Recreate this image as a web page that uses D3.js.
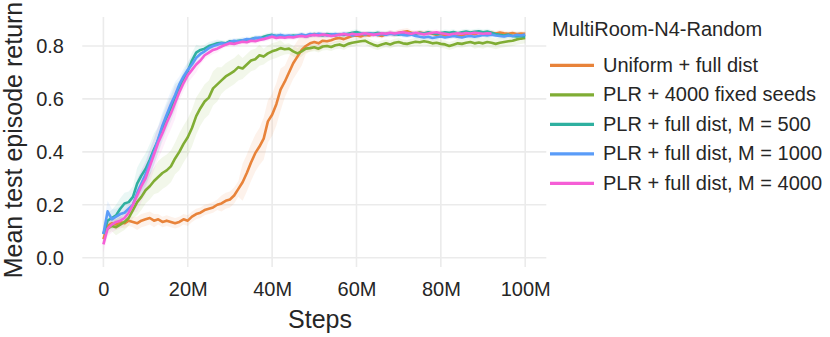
<!DOCTYPE html>
<html>
<head>
<meta charset="utf-8">
<script src="https://cdn.jsdelivr.net/npm/d3@7"></script>
<style>
  body { margin: 0; background: #fff; }
  text { font-family: "Liberation Sans", Arial, sans-serif; fill: #262626; }
</style>
</head>
<body>
<div id="vis"></div>
<script>
// data (steps in millions, one value per 1M)
const SERIES_NAMES = ["Uniform + full dist", "PLR + 4000 fixed seeds", "PLR + full dist, M = 500",
                      "PLR + full dist, M = 1000", "PLR + full dist, M = 4000"];
const COLORS = ["#e8833a", "#80ad34", "#2fb0a0", "#5a9cf8", "#f55ed6"];
const X_TICKS = [0, 20, 40, 60, 80, 100];
const X_TICK_LABELS = ["0", "20M", "40M", "60M", "80M", "100M"];
const Y_TICKS = [0, 0.2, 0.4, 0.6, 0.8];

const UNIFORM = [0.07,0.12,0.13,0.125,0.135,0.13,0.14,0.135,0.13,0.14,
  0.145,0.15,0.14,0.145,0.135,0.14,0.135,0.13,0.135,0.145,
  0.14,0.155,0.165,0.17,0.18,0.185,0.19,0.2,0.205,0.215,
  0.22,0.235,0.26,0.285,0.32,0.36,0.395,0.42,0.45,0.515,
  0.54,0.58,0.635,0.665,0.70,0.735,0.76,0.785,0.80,0.81,
  0.815,0.81,0.82,0.818,0.822,0.828,0.83,0.826,0.832,0.838,
  0.84,0.836,0.842,0.84,0.845,0.842,0.838,0.845,0.848,0.844,
  0.85,0.853,0.856,0.85,0.847,0.851,0.848,0.85,0.846,0.842,
  0.845,0.84,0.838,0.842,0.836,0.84,0.845,0.848,0.844,0.85,
  0.848,0.845,0.85,0.847,0.851,0.848,0.846,0.849,0.845,0.847,0.846];
const PLR_FIXED = [0.09,0.11,0.12,0.115,0.125,0.135,0.15,0.18,0.21,0.23,
  0.255,0.27,0.29,0.305,0.32,0.33,0.345,0.375,0.4,0.43,
  0.455,0.49,0.535,0.565,0.59,0.605,0.64,0.655,0.67,0.685,
  0.695,0.705,0.72,0.715,0.73,0.745,0.75,0.765,0.76,0.772,
  0.78,0.785,0.792,0.788,0.79,0.78,0.772,0.78,0.79,0.792,
  0.795,0.79,0.798,0.80,0.796,0.803,0.806,0.80,0.808,0.812,
  0.815,0.818,0.82,0.812,0.805,0.8,0.806,0.81,0.806,0.812,
  0.815,0.81,0.808,0.812,0.816,0.814,0.818,0.815,0.81,0.812,
  0.808,0.806,0.8,0.805,0.81,0.808,0.812,0.815,0.81,0.813,
  0.81,0.815,0.812,0.808,0.812,0.815,0.818,0.82,0.825,0.828,0.83];
const PLR_M500 = [0.09,0.14,0.15,0.16,0.185,0.205,0.21,0.23,0.28,0.31,
  0.335,0.37,0.41,0.445,0.49,0.53,0.565,0.605,0.64,0.675,
  0.705,0.745,0.775,0.785,0.79,0.8,0.805,0.81,0.812,0.81,
  0.818,0.815,0.82,0.822,0.818,0.826,0.83,0.828,0.835,0.84,
  0.842,0.838,0.84,0.835,0.836,0.84,0.838,0.842,0.836,0.84,
  0.845,0.842,0.84,0.845,0.843,0.84,0.844,0.842,0.846,0.85,
  0.853,0.848,0.845,0.848,0.846,0.85,0.847,0.845,0.848,0.846,
  0.843,0.847,0.845,0.848,0.846,0.85,0.847,0.852,0.848,0.845,
  0.849,0.852,0.85,0.853,0.848,0.852,0.855,0.851,0.854,0.856,
  0.852,0.855,0.85,0.845,0.842,0.84,0.843,0.838,0.836,0.838,0.835];
const PLR_M1000 = [0.09,0.175,0.145,0.155,0.165,0.17,0.185,0.2,0.245,0.28,
  0.315,0.36,0.4,0.45,0.5,0.54,0.58,0.615,0.655,0.685,
  0.71,0.73,0.755,0.77,0.78,0.792,0.8,0.805,0.81,0.808,
  0.815,0.82,0.818,0.822,0.826,0.824,0.83,0.832,0.828,0.835,
  0.84,0.838,0.842,0.838,0.84,0.836,0.84,0.843,0.84,0.845,
  0.842,0.846,0.844,0.84,0.843,0.845,0.842,0.846,0.844,0.84,
  0.843,0.846,0.844,0.847,0.845,0.842,0.845,0.843,0.846,0.844,
  0.846,0.842,0.84,0.843,0.838,0.835,0.832,0.835,0.83,0.833,
  0.836,0.832,0.835,0.838,0.835,0.832,0.836,0.838,0.835,0.838,
  0.842,0.84,0.843,0.84,0.838,0.836,0.84,0.838,0.842,0.84,0.843];
const PLR_M4000 = [0.05,0.11,0.125,0.135,0.14,0.15,0.17,0.2,0.235,0.27,
  0.3,0.345,0.39,0.435,0.47,0.51,0.545,0.585,0.625,0.66,
  0.69,0.71,0.73,0.745,0.765,0.775,0.785,0.79,0.798,0.805,
  0.81,0.808,0.812,0.816,0.814,0.82,0.818,0.823,0.826,0.83,
  0.835,0.83,0.833,0.831,0.834,0.832,0.836,0.838,0.835,0.84,
  0.842,0.84,0.843,0.841,0.838,0.84,0.843,0.845,0.842,0.846,
  0.843,0.845,0.848,0.845,0.842,0.845,0.848,0.846,0.85,0.847,
  0.85,0.852,0.849,0.846,0.85,0.847,0.844,0.847,0.85,0.852,
  0.848,0.846,0.843,0.846,0.848,0.846,0.849,0.847,0.85,0.848,
  0.846,0.848,0.847];

// half-width of the shaded band, one value per 5M
const UNIFORM_BAND = [0.02,0.02,0.025,0.02,0.02,0.02,0.03,0.07,0.08,0.06,0.03,0.015,0.01,0.01,0.012,0.01,0.01,0.012,0.01,0.01,0.01];
const PLR_FIXED_BAND = [0.02,0.03,0.05,0.06,0.07,0.065,0.05,0.04,0.03,0.02,0.015,0.015,0.015,0.015,0.015,0.015,0.015,0.015,0.02,0.02,0.02];
const PLR_M500_BAND = [0.03,0.04,0.06,0.05,0.03,0.015,0.01,0.01,0.01,0.01,0.01,0.01,0.01,0.01,0.01,0.01,0.01,0.01,0.01,0.01,0.01];
const PLR_M1000_BAND = [0.04,0.03,0.05,0.05,0.03,0.015,0.01,0.01,0.01,0.01,0.01,0.01,0.01,0.01,0.01,0.01,0.01,0.01,0.01,0.01,0.01];
const PLR_M4000_BAND = [0.03,0.03,0.06,0.06,0.03,0.015,0.01,0.01,0.01,0.01,0.01,0.01,0.01,0.01,0.01,0.01,0.01,0.01,0.01];

const SERIES = [UNIFORM, PLR_FIXED, PLR_M500, PLR_M1000, PLR_M4000];
const BANDS = [UNIFORM_BAND, PLR_FIXED_BAND, PLR_M500_BAND, PLR_M1000_BAND, PLR_M4000_BAND];

// set constants
const FRAME_WIDTH = 830;
const FRAME_HEIGHT = 337;
const PLOT = {left: 82.3, right: 546.3, top: 17, bottom: 267};

const FRAME = d3.select("#vis")
  .append("svg")
    .attr("width", FRAME_WIDTH)
    .attr("height", FRAME_HEIGHT)
    .style("background", "#fff");

const X_SCALE = d3.scaleLinear().domain([-5, 105]).range([PLOT.left, PLOT.right]);
const Y_SCALE = d3.scaleLinear().domain([-0.0352, 0.9096]).range([PLOT.bottom, PLOT.top]);

// grid
FRAME.append("g")
  .selectAll("line")
  .data(Y_TICKS)
  .enter()
  .append("line")
    .attr("x1", PLOT.left).attr("x2", PLOT.right)
    .attr("y1", d => Y_SCALE(d)).attr("y2", d => Y_SCALE(d))
    .attr("stroke", "#ebebeb").attr("stroke-width", 1.6);

FRAME.append("g")
  .selectAll("line")
  .data(X_TICKS)
  .enter()
  .append("line")
    .attr("x1", d => X_SCALE(d)).attr("x2", d => X_SCALE(d))
    .attr("y1", PLOT.top).attr("y2", PLOT.bottom)
    .attr("stroke", "#ebebeb").attr("stroke-width", 1.6);

// axes (labels only, no domain or ticks)
const xAxis = FRAME.append("g")
  .attr("transform", "translate(0," + PLOT.bottom + ")")
  .call(d3.axisBottom(X_SCALE).tickValues(X_TICKS).tickSize(0).tickPadding(15)
          .tickFormat((d, i) => X_TICK_LABELS[i]));
xAxis.select(".domain").remove();
xAxis.selectAll("text").style("font-size", "20px").attr("fill", "#262626");

const yAxis = FRAME.append("g")
  .attr("transform", "translate(" + 64 + ",0)")
  .call(d3.axisLeft(Y_SCALE).tickValues(Y_TICKS).tickSize(0).tickPadding(0)
          .tickFormat(d3.format(".1f")));
yAxis.select(".domain").remove();
yAxis.selectAll("text").style("font-size", "20px").attr("fill", "#262626");

// axis titles
FRAME.append("text")
  .attr("x", 320)
  .attr("y", 328)
  .attr("text-anchor", "middle")
  .style("font-size", "25px")
  .text("Steps");

FRAME.append("text")
  .attr("transform", "translate(22,140) rotate(-90)")
  .attr("text-anchor", "middle")
  .style("font-size", "25px")
  .text("Mean test episode return");

// bands and lines
const lineGen = d3.line()
  .x((d, i) => X_SCALE(i))
  .y(d => Y_SCALE(d));

SERIES.forEach((vals, s) => {
  const band = BANDS[s];
  const area = d3.area()
    .x((d, i) => X_SCALE(i))
    .y0((d, i) => Y_SCALE(d - band[Math.min(band.length - 1, Math.round(i / 5))]))
    .y1((d, i) => Y_SCALE(d + band[Math.min(band.length - 1, Math.round(i / 5))]));
  FRAME.append("path")
    .datum(vals)
    .attr("d", area)
    .attr("fill", COLORS[s])
    .attr("fill-opacity", 0.1);
});

SERIES.forEach((vals, s) => {
  FRAME.append("path")
    .datum(vals)
    .attr("d", lineGen)
    .attr("fill", "none")
    .attr("stroke", COLORS[s])
    .attr("stroke-width", 2.6)
    .attr("stroke-linejoin", "round");
});

// legend
FRAME.append("text")
  .attr("x", 552)
  .attr("y", 36)
  .style("font-size", "20px")
  .text("MultiRoom-N4-Random");

const legend = FRAME.append("g")
  .selectAll("g")
  .data(SERIES_NAMES)
  .enter()
  .append("g")
    .attr("transform", (d, i) => "translate(550," + (65.3 + i * 29.5) + ")");

legend.append("line")
  .attr("x1", 0).attr("x2", 44)
  .attr("stroke", (d, i) => COLORS[i])
  .attr("stroke-width", 3.3);

legend.append("text")
  .attr("x", 53)
  .attr("dy", "0.33em")
  .style("font-size", "20px")
  .text(d => d);
</script>
</body>
</html>
